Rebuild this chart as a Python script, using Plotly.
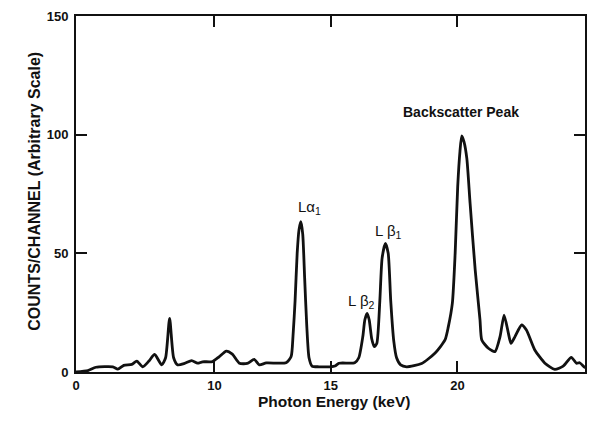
import numpy as np
import plotly.graph_objects as go

# Photon energy spectrum (keV) and counts per channel (arbitrary scale)
energy_kev = [
    0.00, 0.86, 1.44, 2.66, 3.02, 3.45, 4.03, 4.39, 4.82, 5.25, 5.68, 6.19,
    6.47, 6.76, 7.05, 7.34, 7.84, 8.35, 8.78, 9.14, 9.86, 10.21, 10.51, 10.77,
    11.07, 11.41, 11.71, 11.93, 12.23, 13.08, 13.30, 13.38, 13.47, 13.56, 13.64,
    13.72, 13.80, 13.88, 13.97, 14.07, 14.20, 14.50, 15.00, 15.17, 15.33, 15.95,
    16.11, 16.27, 16.35, 16.44, 16.52, 16.62, 16.72, 16.82, 16.94, 17.03, 17.16,
    17.27, 17.37, 17.49, 17.60, 17.76, 18.00, 18.59, 19.11, 19.51, 19.64, 19.80,
    19.91, 20.01, 20.10, 20.17, 20.26, 20.37, 20.50, 20.70, 20.89, 20.96, 21.22,
    21.48, 21.68, 21.84, 22.01, 22.11, 22.27, 22.53, 22.72, 23.05, 23.45, 23.84,
    24.17, 24.49, 24.69, 24.82, 25.02, 25.11,
]
counts = [
    0.0, 0.6, 2.0, 2.2, 1.2, 2.8, 3.2, 4.6, 2.2, 4.5, 7.4, 3.0,
    6.0, 22.6, 6.0, 3.0, 3.6, 4.8, 3.7, 4.3, 4.4, 6.5, 8.8, 7.5,
    3.7, 3.6, 5.3, 3.0, 3.8, 3.9, 6.5, 15.0, 30.0, 50.0, 60.0,
    63.3, 58.0, 40.0, 20.0, 6.0, 2.5, 2.2, 2.2, 2.5, 3.7, 3.9,
    6.0, 15.0, 22.0, 24.7, 22.0, 14.0, 10.7, 12.0, 30.0, 48.0, 54.2,
    50.0, 30.0, 13.0, 6.0, 3.0, 2.2, 3.6, 7.9, 13.5, 19.0, 29.0,
    50.0, 78.0, 93.0, 99.5, 97.0, 90.0, 71.0, 43.0, 22.0, 13.5, 10.0,
    8.6, 14.9, 24.0, 16.3, 12.1, 14.9, 19.8, 17.7, 9.3, 3.7, 1.1,
    2.5, 6.2, 3.7, 3.9, 2.0, 1.7,
]

# Axis ticks
x_tick_kev = [0, 10, 15, 20]
x_tick_text = ["0", "10", "15", "20"]
y_tick_vals = [0, 50, 100, 150]

# The printed energy axis is not uniform: segment breakpoints (keV) and
# their positions along the axis
scale_kev = [0, 10, 15, 20, 26]
scale_pos = [0, 5.46, 10.04, 15.04, 21.04]


def to_axis(e):
    return np.interp(e, scale_kev, scale_pos)


# Peak labels: (text, keV, counts)
peak_labels = [
    ("L\u03b1<sub>1</sub>", 14.11, 69.5),
    ("L \u03b2<sub>2</sub>", 16.21, 29.5),
    ("L \u03b2<sub>1</sub>", 17.27, 59.2),
]
backscatter_label = ("Backscatter Peak", 20.14, 109.6)

FONT = "Liberation Sans, Arial, sans-serif"
INK = "#111111"

fig = go.Figure()
fig.add_trace(go.Scatter(
    x=to_axis(energy_kev), y=counts, mode="lines",
    line=dict(color=INK, width=2.8, shape="spline", smoothing=0.6),
    hoverinfo="skip", showlegend=False,
))

annotations = []
for text, e, c in peak_labels:
    annotations.append(dict(
        x=float(to_axis(e)), y=c, xref="x", yref="y", text=text,
        showarrow=False, font=dict(family=FONT, size=15, color=INK),
    ))
annotations.append(dict(
    x=float(to_axis(backscatter_label[1])), y=backscatter_label[2],
    xref="x", yref="y", text=backscatter_label[0], showarrow=False,
    font=dict(family=FONT, size=14, color=INK, weight="bold"),
))
# Axis titles
annotations.append(dict(
    x=-53 / 511, y=(372 - 191) / 356, xref="paper", yref="paper",
    text="COUNTS/CHANNEL (Arbitrary Scale)", textangle=-90, showarrow=False,
    font=dict(family=FONT, size=16, color=INK, weight="bold"),
))
annotations.append(dict(
    x=(335 - 76) / 511, y=-(412 - 372) / 356, xref="paper", yref="paper",
    text="Photon Energy (keV)", showarrow=False,
    font=dict(family=FONT, size=15.5, color=INK, weight="bold"),
))

axis_common = dict(
    showgrid=False, zeroline=False, showline=True, linecolor=INK,
    linewidth=2, mirror="ticks", ticks="inside", ticklen=11, tickwidth=1.8,
    tickcolor=INK, tickfont=dict(family=FONT, size=13, color=INK, weight="bold"),
)

fig.update_layout(
    width=589, height=425,
    margin=dict(l=76, r=2, t=16, b=53),
    paper_bgcolor="white", plot_bgcolor="white",
    xaxis=dict(
        range=[0, 20.07], tickmode="array",
        tickvals=[float(v) for v in to_axis(x_tick_kev)], ticktext=x_tick_text,
        **axis_common,
    ),
    yaxis=dict(
        range=[0, 150], tickmode="array", tickvals=y_tick_vals,
        ticklabelstandoff=3, **axis_common,
    ),
    annotations=annotations,
)

fig.write_html("out.html")
